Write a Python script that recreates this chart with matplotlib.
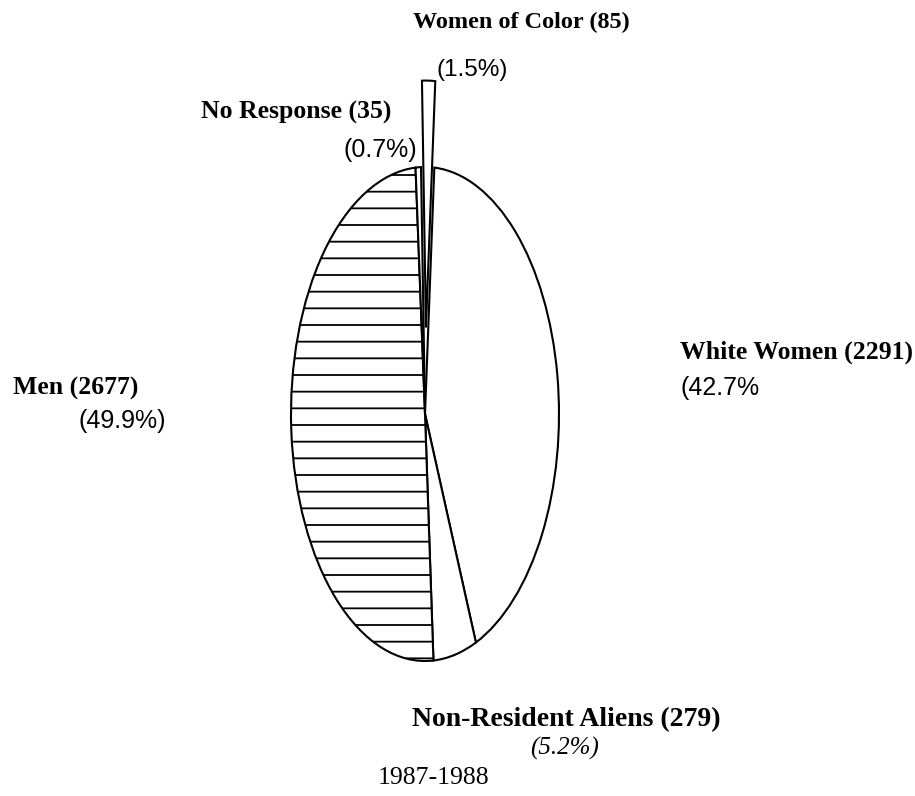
import matplotlib
matplotlib.use("Agg")
import matplotlib.pyplot as plt

categories = ["White Women", "Non-Resident Aliens", "Men", "No Response", "Women of Color"]
counts = [2291, 279, 2677, 35, 85]
pct_labels = ["(42.7%", "(5.2%)", "(49.9%)", "(0.7%)", "(1.5%)"]
explode = [0, 0, 0, 0, 0.35]
hatches = ["", "", "-", "", ""]
year_label = "1987-1988"

W, H = 915, 796
plt.rcParams['hatch.linewidth'] = 1.3
fig = plt.figure(figsize=(W / 100, H / 100), dpi=100)

cx, cy, rx, ry = 425, 414, 134, 247
L = 1.5
ax = fig.add_axes([(cx - rx * L) / W, 1 - (cy + ry * L) / H, 2 * rx * L / W, 2 * ry * L / H])
wedges, _ = ax.pie(counts, explode=explode, startangle=86, counterclock=False,
                   colors=["white"] * 5,
                   wedgeprops=dict(edgecolor="black", linewidth=1.5))
for w, h in zip(wedges, hatches):
    w.set_hatch(h)
ax.set_xlim(-L, L)
ax.set_ylim(-L, L)
ax.set_aspect("auto")
ax.axis("off")

serif = "Liberation Serif"
sans = "Liberation Sans"

def t(x, y, s, **kw):
    fig.text(x / W, 1 - y / H, s, va="center", **kw)

t(413, 22, f"{categories[4]} ({counts[4]})", family=serif, weight="bold", fontsize=17.5)
t(437, 70, pct_labels[4], family=sans, fontsize=17.5)
t(201, 112, f"{categories[3]} ({counts[3]})", family=serif, weight="bold", fontsize=18.5)
t(417, 150, pct_labels[3], family=sans, fontsize=18, ha="right")
t(13, 388, f"{categories[2]} ({counts[2]})", family=serif, weight="bold", fontsize=18.5)
t(78, 421, pct_labels[2], family=sans, fontsize=18)
t(680, 352, f"{categories[0]} ({counts[0]})", family=serif, weight="bold", fontsize=18.5)
t(680, 388, pct_labels[0], family=sans, fontsize=18)
t(412, 720, f"{categories[1]} ({counts[1]})", family=serif, weight="bold", fontsize=20)
t(530, 748, pct_labels[1], family=serif, style="italic", fontsize=18)
t(378, 778, year_label, family=serif, fontsize=18.5)

fig.savefig("out.png", dpi=100, facecolor="white")
